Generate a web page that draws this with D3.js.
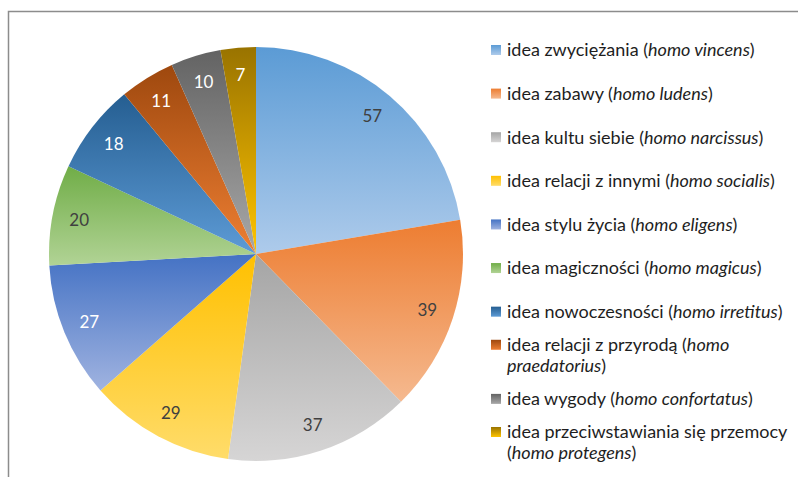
<!DOCTYPE html>
<html>
<head>
<meta charset="utf-8">
<script src="https://cdn.jsdelivr.net/npm/d3@7"></script>
<style>
  body { margin: 0; background: #fff; }
  svg { display: block; font-family: Lato, "Open Sans", sans-serif; }
</style>
</head>
<body>
<svg width="798" height="477"></svg>
<script>
'use strict';

var names = ['idea zwyciężania', 'idea zabawy', 'idea kultu siebie', 'idea relacji z innymi',
  'idea stylu życia', 'idea magiczności', 'idea nowoczesności', 'idea relacji z przyrodą',
  'idea wygody', 'idea przeciwstawiania się przemocy'];
var latin = ['homo vincens', 'homo ludens', 'homo narcissus', 'homo socialis', 'homo eligens',
  'homo magicus', 'homo irretitus', 'homo praedatorius', 'homo confortatus', 'homo protegens'];
var values = [57, 39, 37, 29, 27, 20, 18, 11, 10, 7];
var topColors = ['#5b9bd5', '#ed7d31', '#a5a5a5', '#ffc000', '#4472c4', '#70ad47',
  '#255e91', '#9e480e', '#636363', '#997300'];
var bottomColors = ['#aecbeb', '#f5b98f', '#d6d5d5', '#ffdc6a', '#a0b3e0', '#b1d395',
  '#5d9bd6', '#ee7f33', '#a8a8a8', '#ffc400'];
var labelColors = ['#404040', '#404040', '#404040', '#404040', '#fff', '#404040',
  '#fff', '#fff', '#fff', '#fff'];

var svg = d3.select('svg');
var cx = 256, cy = 254, radius = 207;

var defs = svg.append('defs');
values.forEach(function (v, i) {
  var g = defs.append('linearGradient')
    .attr('id', 'grad' + i)
    .attr('x1', 0).attr('y1', 0).attr('x2', 0).attr('y2', 1);
  g.append('stop').attr('offset', '0%').attr('stop-color', topColors[i]);
  g.append('stop').attr('offset', '100%').attr('stop-color', bottomColors[i]);
});

// frame
svg.append('path')
  .attr('d', 'M8.5,477 V11.5 H798')
  .attr('fill', 'none')
  .attr('stroke', '#8c8c8c')
  .attr('stroke-width', 1.5);

var pie = d3.pie().sort(null).value(function (d) { return d; });
var arcs = pie(values);
var arc = d3.arc().innerRadius(0).outerRadius(radius);
var labelArc = d3.arc().innerRadius(radius * 0.87).outerRadius(radius * 0.87);

var g = svg.append('g').attr('transform', 'translate(' + cx + ',' + cy + ')');

g.selectAll('path')
  .data(arcs)
  .enter()
  .append('path')
  .attr('d', arc)
  .attr('fill', function (d) { return 'url(#grad' + d.index + ')'; });

g.selectAll('text')
  .data(arcs)
  .enter()
  .append('text')
  .attr('transform', function (d) { return 'translate(' + labelArc.centroid(d) + ')'; })
  .attr('text-anchor', 'middle')
  .attr('dy', '0.35em')
  .attr('font-size', 17)
  .attr('fill', function (d) { return labelColors[d.index]; })
  .text(function (d) { return d.data; });

// legend
var legendX = 491, textX = 507, maxWidth = 288, lineH = 21;
var yScale = d3.scaleLinear().domain([0, names.length - 1]).range([50, 442.5]);

var legend = svg.append('g').attr('font-size', 18).attr('fill', '#1e1e1e');

function fill(textSel, groups) {
  groups.forEach(function (grp, k) {
    grp.forEach(function (p, j) {
      var t = p.t + (j === grp.length - 1 && k < groups.length - 1 ? ' ' : '');
      textSel.append('tspan').attr('font-style', p.it ? 'italic' : null).text(t);
    });
  });
}

names.forEach(function (name, i) {
  // word groups: plain words, then "(" + first latin word, last latin word + ")"
  var groups = name.split(' ').map(function (w) { return [{ t: w, it: false }]; });
  var lat = latin[i].split(' ');
  groups.push([{ t: '(', it: false }, { t: lat[0], it: true }]);
  groups.push([{ t: lat[1], it: true }, { t: ')', it: false }]);

  var probe = legend.append('text').attr('x', textX).attr('y', -100);
  var lines = [];
  var cur = [];
  groups.forEach(function (grp) {
    var test = cur.concat([grp]);
    probe.selectAll('tspan').remove();
    fill(probe, test);
    if (probe.node().getComputedTextLength() > maxWidth && cur.length) {
      lines.push(cur);
      cur = [grp];
    } else {
      cur = test;
    }
  });
  lines.push(cur);
  probe.remove();

  var yc = yScale(i);
  var y0 = yc - (lines.length - 1) * lineH / 2;
  lines.forEach(function (line, li) {
    var t = legend.append('text')
      .attr('x', textX)
      .attr('y', y0 + li * lineH)
      .attr('dy', '0.35em');
    fill(t, line);
  });

  legend.append('rect')
    .attr('x', legendX)
    .attr('y', y0 - 5)
    .attr('width', 10)
    .attr('height', 10)
    .attr('fill', 'url(#grad' + i + ')');
});
</script>
</body>
</html>
